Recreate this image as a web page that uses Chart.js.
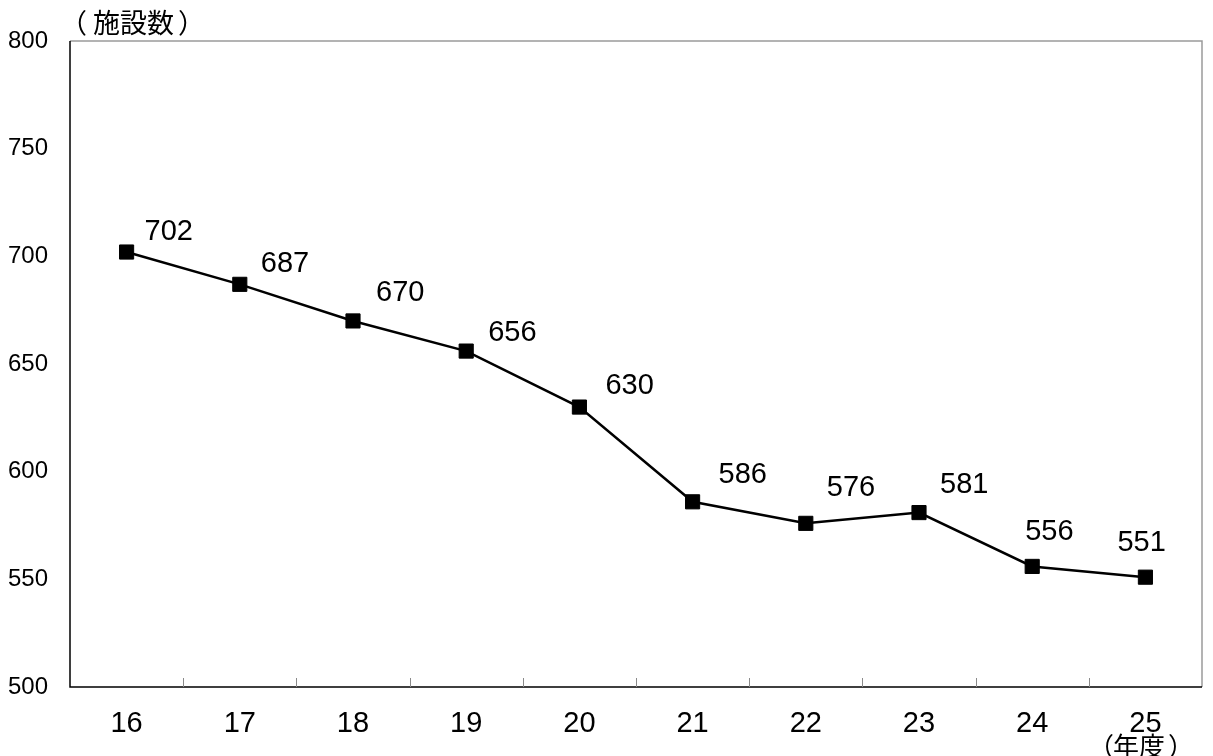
<!DOCTYPE html>
<html>
<head>
<meta charset="utf-8">
<script src="https://cdn.jsdelivr.net/npm/chart.js@4.4.0/dist/chart.umd.min.js"></script>
<style>
  html, body { margin: 0; padding: 0; background: #fff; }
  #wrap { width: 1213px; height: 756px; }
</style>
</head>
<body>
<div id="wrap"><canvas id="facilityChart"></canvas></div>
<script>
// データ（年度ごとの施設数）
const years = ['16', '17', '18', '19', '20', '21', '22', '23', '24', '25'];
const facilities = [702, 687, 670, 656, 630, 586, 576, 581, 556, 551];
const yTicks = [500, 550, 600, 650, 700, 750, 800];

// ラベル位置の微調整（点からのずれ, px）
const labelNudge = [
    [19, -20], [22, -20], [24, -28], [23, -18], [27, -21],
    [27, -27], [22, -35], [22, -28], [-6, -34], [-27, -34]
];

const numFont = "'Liberation Sans', Arial, sans-serif";
const jpFont = "'Noto Sans CJK JP', sans-serif";

// 括弧付きの見出しを描く（括弧の間隔を少し広げる）
function drawBracketed(ctx, text, openRight, left, closeLeft, y) {
    ctx.textAlign = 'right';
    ctx.fillText('（', openRight, y);
    ctx.textAlign = 'left';
    ctx.fillText(text, left, y);
    ctx.fillText('）', closeLeft, y);
}

// 枠線・目盛り・テキスト
const framePlugin = {
    id: 'frame',
    afterDraw(chart) {
        const { ctx, chartArea: a, scales } = chart;
        ctx.save();
        // 上・右は灰色
        ctx.strokeStyle = '#9a9a9a';
        ctx.lineWidth = 1.5;
        ctx.beginPath();
        ctx.moveTo(a.left, a.top);
        ctx.lineTo(a.right, a.top);
        ctx.lineTo(a.right, a.bottom);
        ctx.stroke();
        // 左・下は黒
        ctx.strokeStyle = '#000';
        ctx.beginPath();
        ctx.moveTo(a.left, a.top);
        ctx.lineTo(a.left, a.bottom);
        ctx.lineTo(a.right, a.bottom);
        ctx.stroke();
        // 内向きの目盛り（カテゴリの境目）
        const x = scales.x;
        ctx.strokeStyle = '#8a8a8a';
        ctx.lineWidth = 1;
        for (let i = 0; i < years.length - 1; i++) {
            const px = Math.round((x.getPixelForValue(i) + x.getPixelForValue(i + 1)) / 2) + 0.5;
            ctx.beginPath();
            ctx.moveTo(px, a.bottom);
            ctx.lineTo(px, a.bottom - 9);
            ctx.stroke();
        }
        // データラベル
        const meta = chart.getDatasetMeta(0);
        ctx.fillStyle = '#000';
        ctx.font = '29px ' + numFont;
        ctx.textAlign = 'left';
        ctx.textBaseline = 'middle';
        meta.data.forEach((pt, i) => {
            const [dx, dy] = labelNudge[i];
            ctx.fillText(String(facilities[i]), pt.x + dx - 1, pt.y + dy);
        });
        // 軸タイトル
        ctx.font = '27px ' + jpFont;
        drawBracketed(ctx, '施設数', 87, 93, 178, 23);
        ctx.font = '26px ' + jpFont;
        drawBracketed(ctx, '年度', 1114, 1113, 1168, 746);
        ctx.restore();
    }
};

const ctx = document.getElementById('facilityChart').getContext('2d');
new Chart(ctx, {
    type: 'line',
    data: {
        labels: years,
        datasets: [{
            label: '施設数',
            data: facilities,
            borderColor: '#000',
            borderWidth: 2.5,
            pointStyle: 'rect',
            pointRadius: 10,
            pointBackgroundColor: '#000',
            pointBorderColor: '#000',
            pointBorderWidth: 1,
            tension: 0
        }]
    },
    options: {
        responsive: true,
        maintainAspectRatio: false,
        animation: false,
        layout: { padding: { top: 41, right: 8, left: 0, bottom: 0 } },
        plugins: {
            legend: { display: false },
            tooltip: { enabled: false }
        },
        scales: {
            x: {
                offset: true,
                grid: { display: false },
                border: { display: false },
                ticks: {
                    color: '#000',
                    font: { family: numFont, size: 29 },
                    padding: 12,
                    maxRotation: 0
                },
                afterFit(scale) { scale.height = 69; }
            },
            y: {
                min: 500,
                max: 800,
                afterBuildTicks(scale) {
                    scale.ticks = yTicks.map(v => ({ value: v }));
                },
                grid: { display: false },
                border: { display: false },
                ticks: {
                    color: '#000',
                    font: { family: numFont, size: 24 },
                    padding: 14
                },
                afterFit(scale) { scale.width = 70; }
            }
        }
    },
    plugins: [framePlugin]
});
</script>
</body>
</html>
